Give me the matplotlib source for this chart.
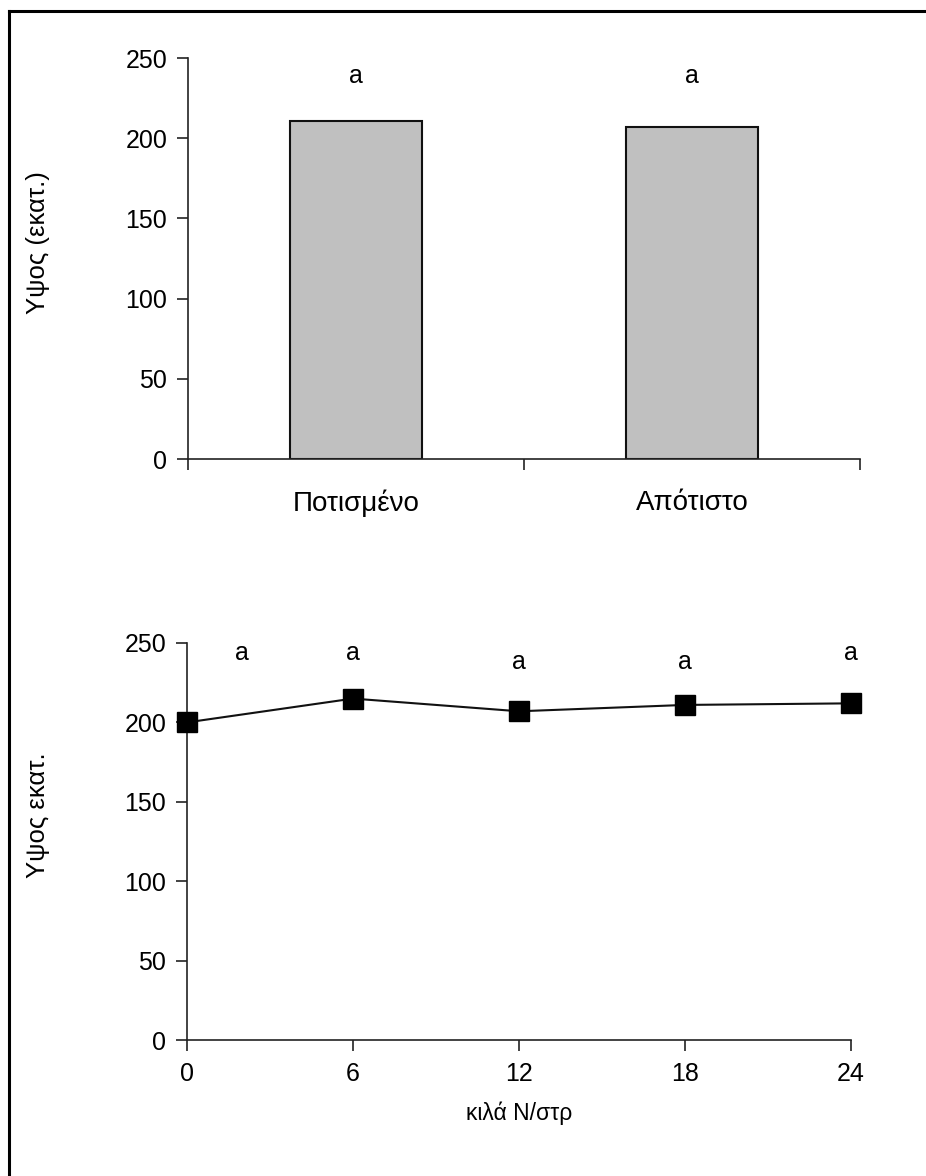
import matplotlib
matplotlib.use("Agg")
import matplotlib.pyplot as plt
from matplotlib.lines import Line2D

plt.rcParams['font.family'] = ['Liberation Sans', 'DejaVu Sans']

# top panel: irrigation treatment
treatments = ['Ποτισμένο', 'Απότιστο']
height_by_treatment = [211, 207]
treatment_letters = ['a', 'a']

# bottom panel: nitrogen rate
n_rates = [0, 6, 12, 18, 24]
height_by_rate = [200, 215, 207, 211, 212]
rate_letters = ['a', 'a', 'a', 'a', 'a']
rate_letter_x = [2, 6, 12, 18, 24]
rate_letter_y = [244, 244, 238, 238, 244]

W, H = 926, 1176
fig = plt.figure(figsize=(W / 100, H / 100), dpi=100, facecolor='white')

FS = 18
tick_kw = dict(direction='out', length=8, width=1.2, labelsize=FS, pad=7, color='#222222')

# ---- top chart ----
ax1 = fig.add_axes([188 / W, 1 - 459 / H, 672 / W, 401 / H])
xs = list(range(len(treatments)))
ax1.bar(xs, height_by_treatment, width=0.39, color='#c0c0c0', edgecolor='#111111', linewidth=1.5, zorder=2)
for x, s in zip(xs, treatment_letters):
    ax1.text(x, 239, s, ha='center', va='center', fontsize=FS)
ax1.set_xlim(-0.5, 1.5)
ax1.set_ylim(0, 250)
ax1.set_yticks([0, 50, 100, 150, 200, 250])
ax1.set_xticks([-0.5, 0.5, 1.5])
ax1.set_xticklabels([])
ax1.set_xticks(xs, minor=True)
ax1.set_xticklabels(treatments, minor=True)
ax1.tick_params(axis='both', which='major', **tick_kw)
ax1.tick_params(axis='x', which='minor', length=0, labelsize=20, pad=22)
ax1.set_ylabel('Υψος (εκατ.)', fontsize=18.5)
ax1.yaxis.set_label_coords(-0.205, 0.54)

# ---- bottom chart ----
ax2 = fig.add_axes([187 / W, 1 - 1040 / H, 664 / W, 397 / H])
ax2.plot(n_rates, height_by_rate, color='#111111', lw=1.5, marker='s', ms=14,
         mfc='black', mec='black', clip_on=False, zorder=3)
for x, y, s in zip(rate_letter_x, rate_letter_y, rate_letters):
    ax2.text(x, y, s, ha='center', va='center', fontsize=FS)
ax2.set_xlim(0, 24)
ax2.set_ylim(0, 250)
ax2.set_xticks(n_rates)
ax2.set_yticks([0, 50, 100, 150, 200, 250])
ax2.tick_params(axis='both', which='major', **tick_kw)
ax2.tick_params(axis='x', pad=8)
ax2.set_xlabel('κιλά N/στρ', fontsize=16.5, labelpad=11)
ax2.set_ylabel('Υψος εκατ.', fontsize=18.5)
ax2.yaxis.set_label_coords(-0.206, 0.567)

for ax in (ax1, ax2):
    ax.spines['top'].set_visible(False)
    ax.spines['right'].set_visible(False)
    for sp in ('left', 'bottom'):
        ax.spines[sp].set_linewidth(1.2)
        ax.spines[sp].set_color('#222222')

# outer frame (left and top edges visible)
fig.add_artist(Line2D([9 / W, 9 / W], [1 - 11 / H, 0], transform=fig.transFigure, color='black', lw=2.2))
fig.add_artist(Line2D([9 / W, 1], [1 - 11 / H, 1 - 11 / H], transform=fig.transFigure, color='black', lw=2.2))

fig.savefig('out.png', dpi=100, facecolor='white')
